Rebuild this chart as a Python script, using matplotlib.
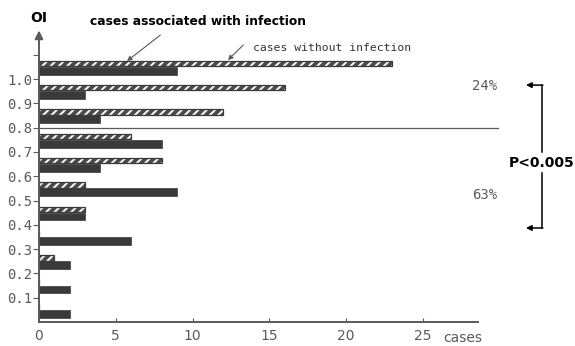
import numpy as np
import matplotlib.pyplot as plt

# OI class lower bounds and case counts per class
oi_bins = [0.0, 0.1, 0.2, 0.3, 0.4, 0.5, 0.6, 0.7, 0.8, 0.9, 1.0]
with_infection = [2, 2, 2, 6, 3, 9, 4, 8, 4, 3, 9]
without_infection = [0, 0, 1, 0, 3, 3, 8, 6, 12, 16, 23]

xticks = [0, 5, 10, 15, 20, 25]
yticks = [0.1, 0.2, 0.3, 0.4, 0.5, 0.6, 0.7, 0.8, 0.9, 1.0, 1.1]
ytick_labels = ['0.1', '0.2', '0.3', '0.4', '0.5', '0.6', '0.7', '0.8', '0.9', '1.0', '']

pct_high = '24%'
pct_low = '63%'
p_text = 'P<0.005'

dark = '#3a3a3a'
grey = '#5a5a5a'
mono = 'DejaVu Sans Mono'

fig = plt.figure(figsize=(5.75, 3.46), dpi=100)
ax = fig.add_axes([0.0678, 0.0694, 0.8015, 0.8426])

bins = np.array(oi_bins)
# infected cases: solid bars, lower part of each class
ax.barh(bins + 0.034, with_infection, height=0.032, left=0,
        color=dark, edgecolor=dark, linewidth=0.5)
# non-infected cases: hatched bars just above
plt.rcParams['hatch.linewidth'] = 1.5
ax.barh(bins + 0.064, without_infection, height=0.022, left=0,
        color='#4a4a4a', edgecolor='#f4f4f4', linewidth=0, hatch='////')
ax.barh(bins + 0.064, without_infection, height=0.022, left=0,
        color='none', edgecolor=dark, linewidth=0.9)

ax.set_xlim(0, 30)
ax.set_ylim(0, 1.2)

for s in ['top', 'right', 'left']:
    ax.spines[s].set_visible(False)
ax.spines['bottom'].set_bounds(0, 28.6)
ax.spines['bottom'].set_color(grey)
ax.spines['bottom'].set_linewidth(1.4)

# y axis with arrow head
ax.annotate('', xy=(0, 1.2), xytext=(0, 0), annotation_clip=False,
            arrowprops=dict(arrowstyle='-|>', color=grey, lw=1.4,
                            mutation_scale=12, shrinkA=0, shrinkB=0))

ax.set_xticks(xticks)
ax.set_xticklabels([str(t) for t in xticks], fontsize=10, color=grey)
ax.tick_params(axis='x', direction='in', length=3, color=grey, pad=5)
ax.set_yticks(yticks)
ax.set_yticklabels(ytick_labels, fontsize=10, color=grey, family=mono)
ax.tick_params(axis='y', direction='out', length=4, color=grey, pad=1)

ax.text(27.6, -0.065, 'cases', fontsize=10, color=grey, ha='center',
        va='center', clip_on=False)
ax.text(0, 1.25, 'OI', fontsize=10, fontweight='bold', ha='center',
        va='center', clip_on=False)

# cut-off line at OI 0.8
ax.plot([0, 29.9], [0.8, 0.8], color=grey, lw=0.9, clip_on=False)

# legend callouts
ax.text(3.3, 1.235, 'cases associated with infection', fontsize=8.8,
        fontweight='bold', ha='left', va='center', clip_on=False)
ax.annotate('', xy=(5.73, 1.074), xytext=(7.9, 1.181), annotation_clip=False,
            arrowprops=dict(arrowstyle='-|>', color=grey, lw=0.8,
                            mutation_scale=7, shrinkA=0, shrinkB=0))
ax.text(13.9, 1.128, 'cases without infection', fontsize=8.2, color='#333333',
        family=mono, ha='left', va='center', clip_on=False)
ax.annotate('', xy=(12.3, 1.078), xytext=(13.3, 1.14), annotation_clip=False,
            arrowprops=dict(arrowstyle='-|>', color=grey, lw=0.8,
                            mutation_scale=7, shrinkA=0, shrinkB=0))

# infection rates above / below the cut-off
ax.text(29.0, 0.971, pct_high, fontsize=10, color=grey, family=mono,
        ha='center', va='center', clip_on=False)
ax.text(29.0, 0.523, pct_low, fontsize=10, color=grey, family=mono,
        ha='center', va='center', clip_on=False)

# bracket with significance
bx = 32.75
ax.plot([bx, bx], [0.975, 0.70], color='black', lw=1.1, clip_on=False)
ax.plot([bx, bx], [0.613, 0.387], color='black', lw=1.1, clip_on=False)
for yy in (0.975, 0.387):
    ax.annotate('', xy=(31.7, yy), xytext=(bx + 0.05, yy), annotation_clip=False,
                arrowprops=dict(arrowstyle='-|>', color='black', lw=1.1,
                                mutation_scale=8, shrinkA=0, shrinkB=0))
ax.text(bx, 0.654, p_text, fontsize=10, fontweight='bold', ha='center',
        va='center', clip_on=False)

fig.savefig('out.png', dpi=100)
